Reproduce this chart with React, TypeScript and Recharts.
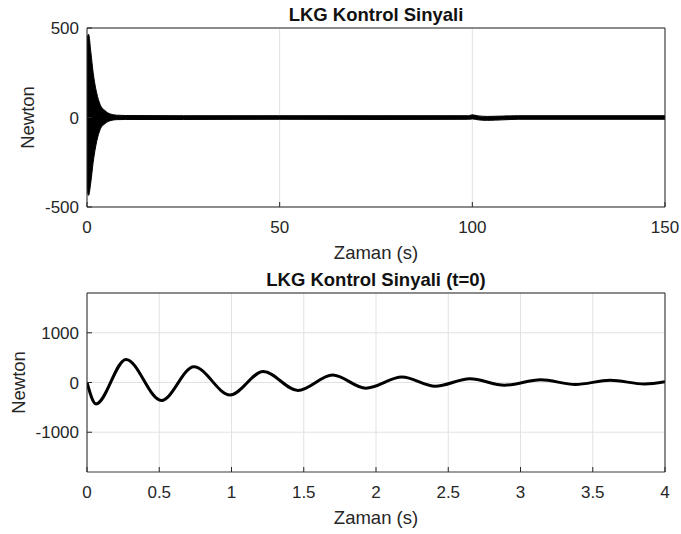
import React from 'react';
import { ComposedChart, Area, Line, XAxis, YAxis, CartesianGrid } from 'recharts';

// Full 150 s run: lower / upper envelope of the fast control oscillation (N)
const runTime = [0, 0.4, 1, 1.6, 2.5, 3.4, 4.7, 6, 7.7, 10, 25, 50, 75, 99, 100, 101.5, 104, 108, 112, 150];
const runLow = [-400, -435, -360, -250, -135, -68, -34, -18, -12, -11, -11, -10, -11, -10, -8, -13, -16, -13, -10, -10];
const runHigh = [440, 465, 365, 250, 138, 73, 38, 20, 13, 11, 10, 10, 10, 10, 15, 9, 6, 8, 10, 10];
const runTicksX = [0, 50, 100, 150];
const runTicksY = [-500, 0, 500];

// First 4 s: turning points of the damped control force (N)
const zoomTime = [0, 0.062, 0.27, 0.515, 0.74, 0.99, 1.22, 1.46, 1.7, 1.93, 2.18, 2.41, 2.65, 2.89, 3.14, 3.38, 3.62, 3.86, 4];
const zoomForce = [0, -430, 465, -360, 315, -250, 220, -160, 150, -115, 110, -75, 75, -55, 55, -40, 45, -30, 15];
const zoomTicksX = [0, 0.5, 1, 1.5, 2, 2.5, 3, 3.5, 4];
const zoomTicksY = [-1000, 0, 1000];

const runData = runTime.map((t, i) => ({ t, band: [runLow[i], runHigh[i]] }));
const zoomData = zoomTime.map((t, i) => ({ t, force: zoomForce[i] }));

const INK = '#262626';
const GRID = '#e2e2e2';
const FONT = '"Liberation Sans", Arial, Helvetica, sans-serif';

const tickStyle = { fontSize: 17, fill: INK, fontFamily: FONT };
const labelStyle = { fontSize: 18.5, fill: INK, fontFamily: FONT, textAnchor: 'middle' as const };

interface PanelProps {
  title: string;
  data: any[];
  xDomain: [number, number];
  xTicks: number[];
  yDomain: [number, number];
  yTicks: number[];
  height: number;
  top: number;
  plotTop: number;
  yLabelOffset: number;
  xLabelOffset: number;
  bottomLine: { stroke: string; strokeWidth: number };
  children: React.ReactNode;
}

const PLOT_H = 179;

// MATLAB-style axes: boxed, inward ticks on all four sides, light grid
const Panel: React.FC<PanelProps> = ({
  title, data, xDomain, xTicks, yDomain, yTicks, height, top, plotTop, yLabelOffset, xLabelOffset, bottomLine, children,
}) => (
  <div style={{ position: 'absolute', left: 0, top, width: 681, height }}>
    <ComposedChart width={681} height={height} data={data} margin={{ top: plotTop - 1, right: 15, bottom: 0, left: 27 }}>
      <CartesianGrid stroke={GRID} strokeWidth={1} />
      {children}
      <XAxis
        dataKey="t"
        type="number"
        domain={xDomain}
        ticks={xTicks}
        allowDataOverflow
        height={height - plotTop - PLOT_H}
        tickSize={-5}
        tickMargin={19}
        tick={tickStyle}
        tickLine={{ stroke: INK }}
        axisLine={bottomLine}
        label={{ value: 'Zaman (s)', position: 'insideBottom', offset: xLabelOffset, style: labelStyle }}
      />
      <XAxis
        xAxisId="box"
        dataKey="t"
        type="number"
        orientation="top"
        domain={xDomain}
        ticks={xTicks}
        allowDataOverflow
        height={1}
        tickSize={-5}
        tick={false}
        tickLine={{ stroke: INK }}
        axisLine={{ stroke: INK }}
      />
      <YAxis
        type="number"
        domain={yDomain}
        ticks={yTicks}
        allowDataOverflow
        width={60}
        tickSize={-5}
        tickMargin={13}
        tick={tickStyle}
        tickLine={{ stroke: INK }}
        axisLine={{ stroke: INK }}
        label={{ value: 'Newton', angle: -90, position: 'insideLeft', offset: yLabelOffset, style: labelStyle }}
      />
      <YAxis
        yAxisId="box"
        type="number"
        orientation="right"
        domain={yDomain}
        ticks={yTicks}
        allowDataOverflow
        width={1}
        tickSize={-5}
        tick={false}
        tickLine={{ stroke: INK }}
        axisLine={{ stroke: INK }}
      />
    </ComposedChart>
    <svg width={681} height={plotTop} style={{ position: 'absolute', left: 0, top: 0 }}>
      <text
        x={376}
        y={plotTop - 7.5}
        textAnchor="middle"
        fontFamily={FONT}
        fontSize={18.5}
        fontWeight="bold"
        fill="#111"
      >
        {title}
      </text>
    </svg>
  </div>
);

export default function App() {
  return (
    <div style={{ position: 'absolute', left: 0, top: 0, width: 681, height: 534, background: '#fff' }}>
      <Panel
        title="LKG Kontrol Sinyali"
        data={runData}
        xDomain={[0, 150]}
        xTicks={runTicksX}
        yDomain={[-500, 500]}
        yTicks={runTicksY}
        height={270}
        top={0}
        plotTop={28}
        yLabelOffset={0}
        xLabelOffset={11}
        bottomLine={{ stroke: INK, strokeWidth: 1 }}
      >
        <Area
          dataKey="band"
          type="monotone"
          stroke="#000"
          strokeWidth={1}
          fill="#000"
          fillOpacity={1}
          isAnimationActive={false}
        />
      </Panel>
      <Panel
        title="LKG Kontrol Sinyali (t=0)"
        data={zoomData}
        xDomain={[0, 4]}
        xTicks={zoomTicksX}
        yDomain={[-1800, 1800]}
        yTicks={zoomTicksY}
        height={268}
        top={266}
        plotTop={27}
        yLabelOffset={-9}
        xLabelOffset={10}
        bottomLine={{ stroke: '#808080', strokeWidth: 1.5 }}
      >
        <Line
          dataKey="force"
          type="monotone"
          stroke="#000"
          strokeWidth={3}
          dot={false}
          isAnimationActive={false}
        />
      </Panel>
    </div>
  );
}
